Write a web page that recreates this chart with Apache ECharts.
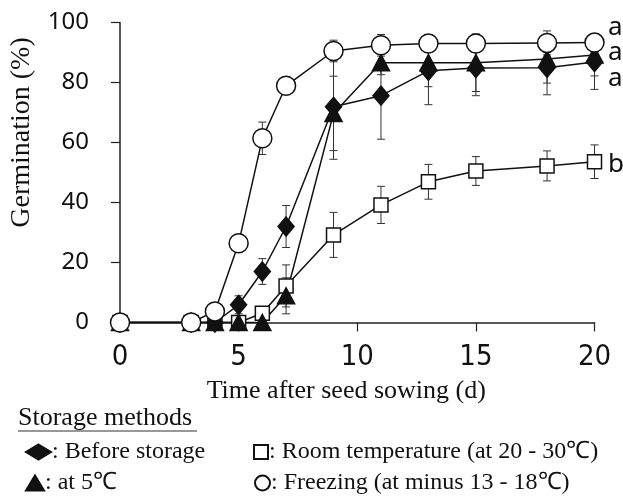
<!DOCTYPE html>
<html>
<head>
<meta charset="utf-8">
<script src="https://cdn.jsdelivr.net/npm/echarts@6/dist/echarts.min.js"></script>
<style>
  html, body { margin: 0; padding: 0; background: #fff; }
  #chart { width: 623px; height: 496px; }
</style>
</head>
<body>
<div id="chart"></div>
<script>
// days after sowing
const days = [0, 3, 4, 5, 6, 7, 9, 11, 13, 15, 18, 20]

// germination (%) and error per storage method
const beforeVals = [0, 0, 0, 5.9, 17, 32, 71.9, 75.6, 83.9, 84.8, 84.9, 86.8]
const beforeErr = [0, 0, 0, 3, 4.3, 7, 17.5, 14.5, 11.3, 9.2, 9, 9.1]
const roomVals = [0, 0, 0, 0, 3.1, 12.2, 29.2, 39.2, 46.9, 50.5, 52.2, 53.6]
const roomErr = [0, 0, 0, 0, 0, 7, 7.5, 6.2, 5.8, 4.8, 5, 5.6]
const coldVals = [0, 0, 0, 0, 0, 8.9, 69.7, 86.6, 86.6, 86.6, 87.8, 89.2]
const coldErr = [0, 0, 0, 0, 0, 6, 12.4, 4, 8, 9.6, 8, 7]
const frozenVals = [0, 0, 3.7, 26.4, 61.4, 78.9, 90.5, 92.4, 93, 93, 93.2, 93.3]
const frozenErr = [0, 0, 0, 0, 5.4, 3, 3.6, 3.6, 3, 3, 4, 3]

const yTicks = [0, 20, 40, 60, 80, 100]
const groupLetters = ['a', 'a', 'a', 'b']

const names = {
  before: 'Before storage',
  room: 'Room temperature (at 20 - 30\u2103)',
  cold: 'at 5\u2103',
  frozen: 'Freezing (at minus 13 - 18\u2103)'
}

const serif = '"Liberation Serif", "Times New Roman", serif'
const sans = '"Noto Sans", "Open Sans", sans-serif'

function pairs(vals) {
  return days.map((d, i) => [d, vals[i]])
}

function errData(vals, errs) {
  return days.map((d, i) => [d, vals[i], errs[i]])
}

// vertical error bar with caps
function errRender(params, api) {
  const x = api.value(0)
  const m = api.value(1)
  const e = api.value(2)
  if (!e) return
  const hi = api.coord([x, m + e])
  const lo = api.coord([x, m - e])
  const w = 4
  const st = { stroke: '#333', lineWidth: 1 }
  return {
    type: 'group',
    children: [
      { type: 'line', shape: { x1: hi[0], y1: hi[1], x2: lo[0], y2: lo[1] }, style: st },
      { type: 'line', shape: { x1: hi[0] - w, y1: hi[1], x2: hi[0] + w, y2: hi[1] }, style: st },
      { type: 'line', shape: { x1: lo[0] - w, y1: lo[1], x2: lo[0] + w, y2: lo[1] }, style: st }
    ]
  }
}

function errSeries(vals, errs) {
  return {
    type: 'custom',
    renderItem: errRender,
    data: errData(vals, errs),
    encode: { x: 0, y: 1 },
    silent: true,
    z: 1
  }
}

function lineSeries(name, vals, symbol, size, fill) {
  return {
    name: name,
    type: 'line',
    data: pairs(vals),
    symbol: symbol,
    symbolSize: size,
    showAllSymbol: true,
    lineStyle: { color: '#111', width: 1.5 },
    itemStyle: { color: fill, borderColor: '#111', borderWidth: 1.5, opacity: 1 },
    emphasis: { disabled: true },
    z: 3
  }
}

function legendFor(name, icon, left, top, w, h) {
  return {
    data: [{ name: name, icon: icon }],
    left: left,
    top: top,
    itemWidth: w,
    itemHeight: h,
    symbolKeepAspect: false,
    selectedMode: false,
    padding: 0,
    formatter: n => ': ' + n,
    textStyle: { fontFamily: serif, fontSize: 24, color: '#111', padding: [0, 0, 0, -4] }
  }
}

const myChart = echarts.init(document.getElementById('chart'))

const letterY = [28, 53, 79, 165]

const option = {
  animation: false,
  backgroundColor: '#fff',
  grid: { left: 113.5, right: 28.5, top: 22.5, bottom: 173.5 },
  xAxis: {
    type: 'value',
    min: 0,
    max: 20,
    interval: 5,
    name: 'Time after seed sowing (d)',
    nameLocation: 'middle',
    nameGap: 56,
    nameTextStyle: { fontFamily: serif, fontSize: 26, color: '#111', padding: [0, 22, 0, 0] },
    axisLine: { lineStyle: { color: '#222', width: 1.5 } },
    axisTick: { length: 9, lineStyle: { color: '#222', width: 1.2 } },
    axisLabel: {
      margin: 20,
      fontFamily: '"DejaVu Sans Condensed", "Liberation Sans Narrow", "Noto Sans", sans-serif',
      fontSize: 29,
      color: '#111'
    },
    splitLine: { show: false }
  },
  yAxis: {
    type: 'value',
    min: 0,
    max: 100,
    interval: 20,
    name: 'Germination (%)',
    nameLocation: 'middle',
    nameGap: 84,
    nameTextStyle: { fontFamily: serif, fontSize: 28, color: '#111', padding: [0, 0, 0, 80] },
    axisLine: { show: true, lineStyle: { color: '#222', width: 1.5 } },
    axisTick: { show: true, length: 9, lineStyle: { color: '#222', width: 1.2 } },
    axisLabel: {
      margin: 31,
      fontFamily: sans,
      fontSize: 24,
      color: '#111',
      formatter: v => (yTicks.indexOf(v) >= 0 ? String(v) : '')
    },
    splitLine: { show: false }
  },
  legend: [
    legendFor(names.before, 'diamond', 25, 440, 25, 15),
    legendFor(names.cold, 'triangle', 25, 471, 18, 15),
    legendFor(names.room, 'rect', 253, 440, 14, 14),
    legendFor(names.frozen, 'circle', 254, 471, 15, 15)
  ],
  graphic: [
    {
      type: 'text',
      left: 18,
      top: 405,
      style: { text: 'Storage methods', font: '26px ' + serif, fill: '#111' }
    },
    {
      type: 'line',
      shape: { x1: 18, y1: 431, x2: 197, y2: 431 },
      style: { stroke: '#333', lineWidth: 1.2 }
    }
  ].concat(groupLetters.map((t, i) => ({
    type: 'text',
    x: 608,
    y: letterY[i],
    style: { text: t, font: '26px ' + sans, fill: '#111', verticalAlign: 'middle' }
  }))),
  series: [
    errSeries(beforeVals, beforeErr),
    errSeries(roomVals, roomErr),
    errSeries(coldVals, coldErr),
    errSeries(frozenVals, frozenErr),
    lineSeries(names.room, roomVals, 'rect', 14, '#fff'),
    lineSeries(names.cold, coldVals, 'triangle', [17, 16], '#111'),
    lineSeries(names.before, beforeVals, 'diamond', [16, 19], '#111'),
    lineSeries(names.frozen, frozenVals, 'circle', 19, '#fff')
  ]
}

myChart.setOption(option)
</script>
</body>
</html>
